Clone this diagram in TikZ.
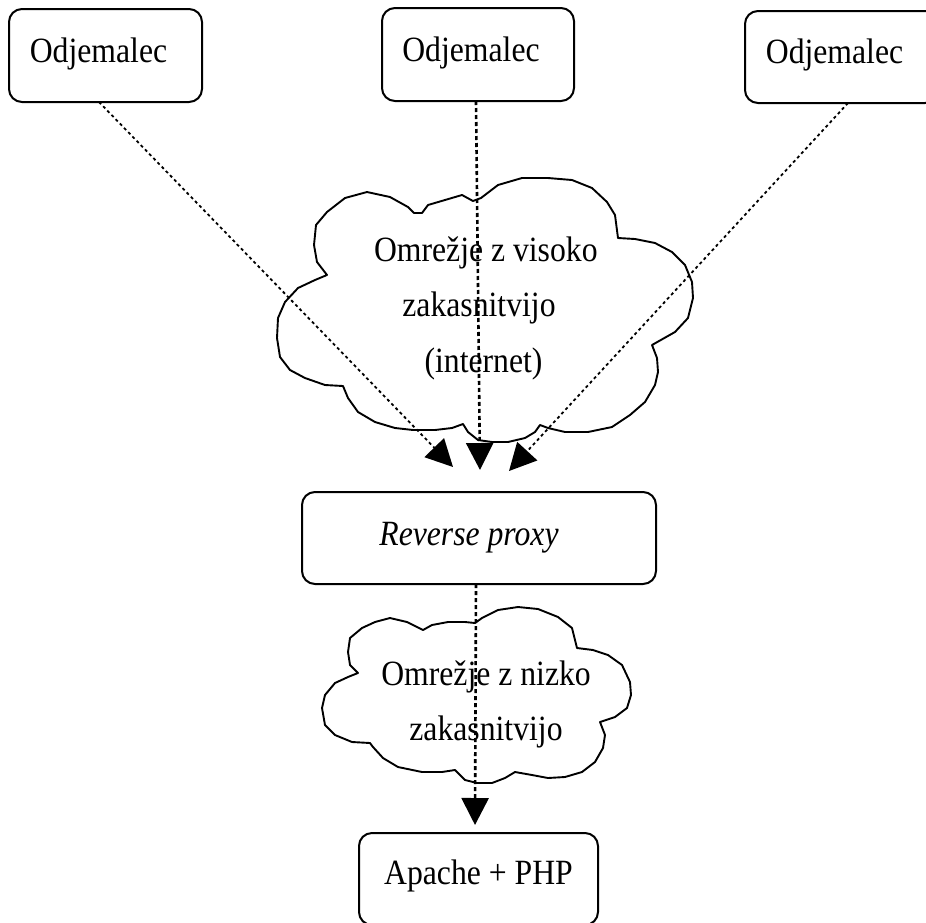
\documentclass[tikz,border=0pt]{standalone}
\usepackage{fontspec}
\setmainfont{Liberation Serif}
\usetikzlibrary{arrows.meta}
\newcommand\tallText[1]{\scalebox{1}[1.12]{#1}}
\begin{document}
\begin{tikzpicture}[x=1pt,y=-1pt,
  box/.style={draw, line width=2pt, rounded corners=13pt, inner sep=0pt},
  lbl/.style={font=\fontsize{31.7}{38}\selectfont, inner sep=0pt, anchor=base},
  cloudline/.style={draw, line width=1.9pt, line join=round},
  link/.style={line width=1.8pt, dash pattern=on 3pt off 3pt, -{Triangle[width=27pt,length=27pt]}},
  linkb/.style={line width=2.6pt, dash pattern=on 4pt off 3pt, -{Triangle[width=27pt,length=27pt]}},
]
\useasboundingbox (0,0) rectangle (926,922);
\clip (0,0) rectangle (926,922);

% boxes
\node[box, minimum width=193pt, minimum height=93pt] (b1) at (105.5,55.5) {};
\node[box, minimum width=192pt, minimum height=93pt] (b2) at (478,54.5) {};
\node[box, minimum width=193pt, minimum height=92pt] (b3) at (841.5,57) {};
\node[box, minimum width=354pt, minimum height=92pt] (rp) at (479,538) {};
\node[box, minimum width=239pt, minimum height=92pt] (ap) at (478.5,879) {};

\node[lbl] (l1) at (98.5,62) {\tallText{Odjemalec}};
\node[lbl] (l2) at (471,61) {\tallText{Odjemalec}};
\node[lbl] (l3) at (834.5,63) {\tallText{Odjemalec}};
\node[lbl] (lrp) at (469,545) {\tallText{\itshape Reverse proxy}};
\node[lbl] (lap) at (478.5,884) {\tallText{Apache + PHP}};

% upper cloud
\draw[cloudline] (327,275) -- (317,262) -- (314,245) -- (316,225) -- (327,212) -- (345,198) -- (367,192) -- (390,197) -- (408,207) -- (414,213) -- (422,213) -- (428,205) -- (445,200) -- (462,195) -- (473,201) -- (481,198) -- (498,185) -- (522,178) -- (548,178) -- (572,180) -- (592,188) -- (607,202) -- (615,215) -- (618,238) -- (635,239) -- (655,243) -- (672,252) -- (685,265) -- (692,282) -- (693,298) -- (688,318) -- (675,332) -- (652,345) -- (657,358) -- (658,372) -- (655,385) -- (645,402) -- (630,415) -- (612,427) -- (588,432) -- (565,432) -- (548,428) -- (540,425) -- (535,432) -- (525,438) -- (508,442) -- (492,442) -- (478,440) -- (468,432) -- (463,424) -- (452,428) -- (435,430) -- (413,430) -- (395,428) -- (375,422) -- (358,412) -- (348,398) -- (343,386) -- (325,385) -- (305,378) -- (290,370) -- (280,357) -- (277,338) -- (278,318) -- (285,302) -- (298,288) -- (315,280) -- cycle;
\node[lbl] (c1a) at (485.8,261.5) {\tallText{Omrežje z visoko}};
\node[lbl] (c1b) at (479,316.5) {\tallText{zakasnitvijo}};
\node[lbl] (c1c) at (483.5,372) {\tallText{(internet)}};

% lower cloud
\draw[cloudline] (358,673) -- (350,665) -- (348,652) -- (350,638) -- (362,628) -- (375,622) -- (390,618) -- (407,622) -- (423,630) -- (432,625) -- (448,622) -- (465,622) -- (475,623) -- (482,618) -- (498,610) -- (518,607) -- (538,609) -- (558,617) -- (572,628) -- (577,648) -- (593,650) -- (608,655) -- (622,665) -- (630,682) -- (631,695) -- (627,708) -- (615,717) -- (600,722) -- (605,735) -- (603,748) -- (595,762) -- (582,772) -- (565,777) -- (548,778) -- (532,775) -- (515,772) -- (505,778) -- (492,783) -- (477,783) -- (465,780) -- (455,770) -- (442,772) -- (422,772) -- (398,767) -- (383,758) -- (373,747) -- (370,743) -- (352,742) -- (335,735) -- (325,725) -- (322,708) -- (325,695) -- (335,683) -- (348,677) -- cycle;
\node[lbl] (c2a) at (486,685) {\tallText{Omrežje z nizko}};
\node[lbl] (c2b) at (486,740) {\tallText{zakasnitvijo}};

% connectors
\coordinate (s1) at (99,102);
\coordinate (s2) at (476,101);
\coordinate (s3) at (848,103);
\coordinate (s4) at (476,584);
\coordinate (t1) at (453,467);
\coordinate (t2) at (480,470);
\coordinate (t3) at (509,471);
\coordinate (t4) at (475,825);
\draw[link] (s1) -- (t1);
\draw[linkb] (s2) -- (t2);
\draw[link] (s3) -- (t3);
\draw[linkb] (s4) -- (t4);
\end{tikzpicture}
\end{document}
